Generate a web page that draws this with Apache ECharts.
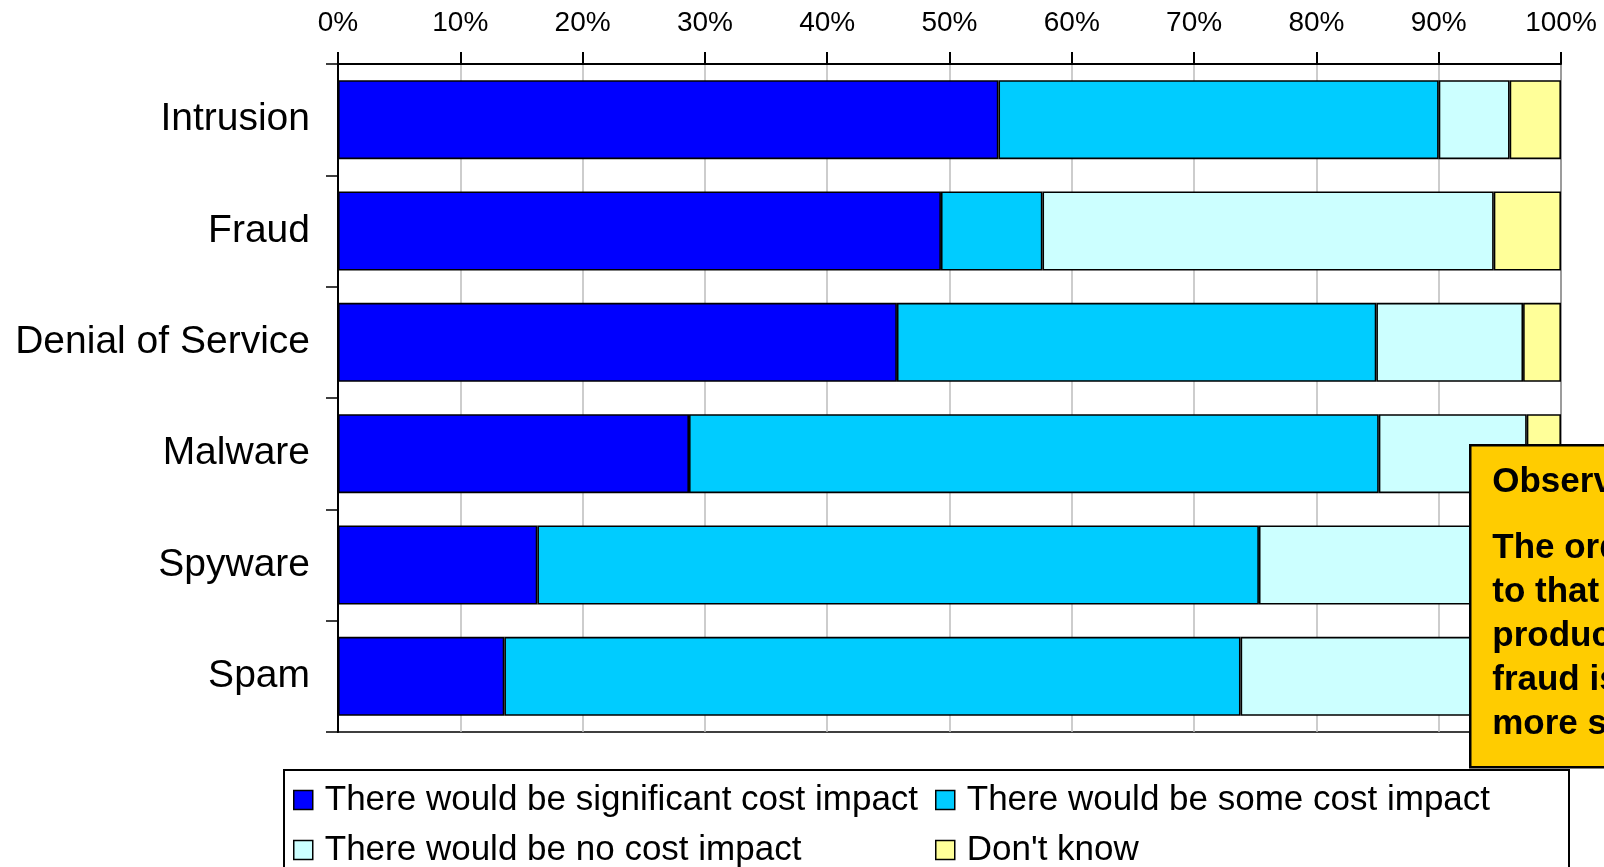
<!DOCTYPE html>
<html>
<head>
<meta charset="utf-8">
<style>
  html, body { margin: 0; padding: 0; background: #fff; }
  #chart { width: 1604px; height: 867px; }
</style>
<script src="https://cdn.jsdelivr.net/npm/echarts@6/dist/echarts.min.js"></script>
</head>
<body>
<div id="chart"></div>
<script>
// Threat categories, top to bottom
const categories = ['Intrusion', 'Fraud', 'Denial of Service', 'Malware', 'Spyware', 'Spam'];

// Share of respondents (%) per answer
const significantImpact = [54.0, 49.3, 45.7, 28.7, 16.3, 13.6];
const someImpact        = [36.0,  8.3, 39.2, 56.4, 59.0, 60.2];
const noImpact          = [ 5.8, 36.9, 12.0, 12.1, 21.5, 23.0];
const dontKnow          = [ 4.2,  5.5,  3.1,  2.8,  3.2,  3.2];

const seriesNames = [
  'There would be significant cost impact',
  'There would be some cost impact',
  'There would be no cost impact',
  "Don't know"
];
const seriesColors = ['#0000FF', '#00CCFF', '#CCFFFF', '#FFFF99'];

const xTicks = { min: 0, max: 100, interval: 10 };

const noteTitle = 'Observations:';
const noteLines = ['The order is similar', 'to that for lost', 'productivity, but', 'fraud is seen as', 'more significant'];

const family = '"Liberation Sans", Arial, sans-serif';
const noteFont = 'bold 35px "Liberation Sans", Arial, sans-serif';

const chart = echarts.init(document.getElementById('chart'), null, { renderer: 'canvas' });

const values = [significantImpact, someImpact, noImpact, dontKnow];
const series = values.map((data, i) => ({
  name: seriesNames[i],
  type: 'bar',
  stack: 'total',
  barWidth: 79,
  data: data,
  itemStyle: { color: seriesColors[i], borderColor: '#000', borderWidth: 1.6 },
  emphasis: { disabled: true }
}));

// Two single-column legends give the aligned 2x2 layout
const legendCommon = {
  orient: 'vertical',
  top: 770,
  height: 140,
  itemGap: 0,
  itemWidth: 19,
  itemHeight: 19,
  icon: 'rect',
  itemStyle: { borderColor: '#000', borderWidth: 1.5 },
  textStyle: { fontFamily: family, fontSize: 35, color: '#000', lineHeight: 50, padding: [0, 0, 0, 7] },
  selectedMode: false
};

chart.setOption({
  animation: false,
  backgroundColor: '#fff',
  grid: {
    left: 338, right: 43, top: 64, bottom: 135,
    show: true, borderColor: '#000', borderWidth: 1.5, backgroundColor: 'transparent'
  },
  xAxis: {
    type: 'value',
    position: 'top',
    min: xTicks.min, max: xTicks.max, interval: xTicks.interval,
    axisLine: { show: true, lineStyle: { color: '#000', width: 2 } },
    axisTick: { show: true, length: 12, lineStyle: { color: '#000', width: 2 } },
    axisLabel: { formatter: '{value}%', color: '#000', fontFamily: family, fontSize: 28, margin: 27 },
    splitLine: { show: true, lineStyle: { color: '#bdbdbd', width: 1.5 } }
  },
  yAxis: {
    type: 'category',
    inverse: true,
    data: categories,
    axisLine: { show: true, lineStyle: { color: '#000', width: 2 } },
    axisTick: { show: true, length: 12, lineStyle: { color: '#000', width: 1.5 } },
    axisLabel: { color: '#000', fontFamily: family, fontSize: 39, margin: 28 }
  },
  legend: [
    Object.assign({}, legendCommon, { left: 288, data: [seriesNames[0], seriesNames[2]] }),
    Object.assign({}, legendCommon, { left: 930, data: [seriesNames[1], seriesNames[3]] })
  ],
  series: series,
  graphic: [
    {
      type: 'rect', left: 283, top: 769, z: -1,
      shape: { width: 1285, height: 140 },
      style: { fill: '#fff', stroke: '#000', lineWidth: 2 }
    },
    {
      type: 'group', left: 1469, top: 444,
      children: [
        { type: 'rect', z: 100, shape: { x: 0, y: 0, width: 200, height: 322 },
          style: { fill: '#FFCC00', stroke: '#000', lineWidth: 2.5 } },
        { type: 'text', z: 101, x: 22, y: 37,
          style: { text: noteTitle, fill: '#000', font: noteFont, verticalAlign: 'middle' } }
      ].concat(noteLines.map((t, i) => ({
        type: 'text', z: 101, x: 22, y: 103.5 + i * 44,
        style: { text: t, fill: '#000', font: noteFont, verticalAlign: 'middle' }
      })))
    }
  ]
});
</script>
</body>
</html>
